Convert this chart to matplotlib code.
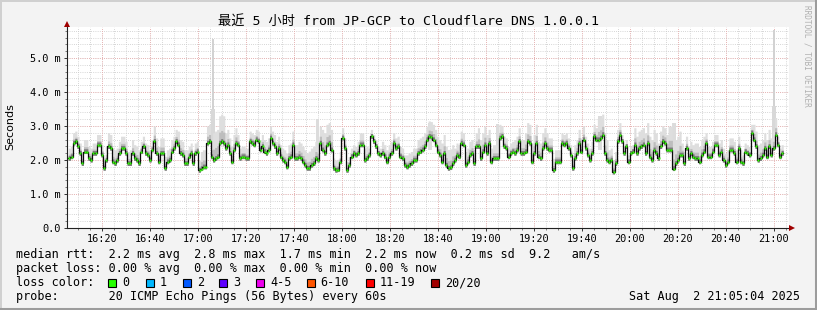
import numpy as np
import matplotlib
matplotlib.use('Agg')
import matplotlib.pyplot as plt
from matplotlib.patches import Rectangle, Polygon
from matplotlib.lines import Line2D

W, H = 817, 310
MONO = ['DejaVu Sans Mono', 'Noto Sans CJK SC']


def hm(s):
    h, m = s.split(':')
    return int(h) * 60 + float(m)


# median rtt (ms), read per segment of the time axis
seg_edges = ['16:06', '16:56', '17:46', '18:36', '19:26', '20:16', '21:04']
seg1 = [2.05, 2.1, 2.5, 2.55, 2.4, 2.2, 1.9, 2.25, 2.25, 2.05, 2.0, 2.2, 2.2, 2.45,
        2.45, 2.15, 1.76, 2.0, 2.4, 2.35, 1.95, 1.9, 2.0, 2.2, 2.35, 2.35, 2.2, 1.9,
        1.9, 2.2, 2.05, 2.0, 1.9, 2.25, 2.4, 2.2, 2.15, 2.0, 2.3, 2.55, 2.2, 1.95,
        2.2, 2.2, 1.76, 1.95, 2.0, 2.25, 2.35, 2.55, 2.45, 2.2, 2.15, 1.9, 1.9]
seg2 = [2.1, 2.2, 1.9, 2.2, 2.25, 1.7, 1.75, 1.8, 1.8, 2.5, 2.55, 2.1, 2.0, 2.05,
        2.1, 2.5, 2.55, 2.5, 2.35, 2.45, 2.2, 1.95, 2.3, 2.5, 2.45, 2.05, 2.1, 2.1,
        2.05, 2.05, 2.55, 2.5, 2.45, 2.6, 2.55, 2.3, 2.4, 2.25, 2.2, 2.3, 2.65, 2.5,
        2.4, 2.2, 2.35, 2.1, 2.0, 1.95, 1.8, 2.05, 2.1, 2.45, 2.05, 2.05, 2.1, 2.05,
        1.95, 1.85, 1.76]
seg3 = [1.76, 1.85, 1.9, 2.05, 2.0, 2.5, 2.3, 2.2, 2.45, 2.5, 2.3, 1.76, 1.7, 1.72,
        1.95, 2.65, 2.35, 1.7, 1.85, 2.1, 2.2, 2.15, 2.2, 2.45, 2.45, 2.0, 2.05, 2.15,
        2.7, 2.55, 2.4, 2.2, 2.15, 2.2, 2.1, 1.95, 2.1, 2.2, 2.5, 2.35, 2.4, 2.1, 2.05,
        1.85, 1.8, 1.85, 1.9, 2.0, 2.0, 2.2, 2.25, 2.3, 2.4, 2.6]
seg4 = [2.7, 2.68, 2.6, 2.45, 2.25, 2.15, 1.95, 2.2, 1.85, 1.76, 1.78, 1.9, 2.0, 2.15,
        2.1, 2.5, 2.45, 1.85, 1.95, 2.15, 2.2, 1.9, 2.4, 2.4, 2.05, 2.25, 2.45, 2.2,
        2.5, 1.95, 2.05, 2.05, 2.05, 2.65, 2.7, 2.4, 2.35, 2.1, 2.2, 2.25, 2.2, 2.3,
        2.55, 2.2, 2.2, 2.25, 2.55, 2.5, 1.95, 2.2, 2.5, 2.1, 2.05, 2.35, 2.5, 2.35]
seg5 = [2.3, 2.3, 1.7, 1.95, 1.95, 1.95, 2.5, 2.45, 2.5, 2.35, 2.15, 1.76, 2.05, 2.2,
        2.5, 2.25, 2.6, 2.35, 2.15, 2.0, 2.2, 2.7, 2.6, 2.6, 2.65, 2.75, 2.2, 2.0,
        1.95, 2.0, 1.65, 1.9, 2.55, 2.75, 2.55, 2.2, 2.4, 1.95, 2.2, 2.25, 2.45, 2.2,
        2.35, 2.4, 2.45, 2.2, 2.5, 2.1, 2.0, 2.3, 2.2, 2.05, 2.4, 2.55, 2.5, 2.3]
seg6 = [2.3, 2.3, 1.75, 1.9, 2.0, 2.15, 2.15, 1.9, 2.35, 2.05, 2.2, 2.1, 2.05, 2.05,
        1.95, 2.15, 2.25, 2.5, 2.1, 2.1, 2.25, 2.45, 2.45, 2.15, 2.25, 2.0, 1.85, 1.95,
        2.3, 2.3, 2.2, 1.95, 2.35, 1.95, 1.9, 2.25, 2.2, 2.15, 2.8, 2.6, 2.4, 2.0, 2.05,
        2.15, 2.35, 2.1, 2.4, 2.15, 2.35, 2.75, 2.45, 2.1, 2.2]
segments = [seg1, seg2, seg3, seg4, seg5, seg6]

# smoke: spread of the slowest pings above the median (ms), per 5 minute block
spread_start = '16:06'
spread = [0.3, 0.35, 0.3, 0.4, 0.35, 0.4, 0.3, 0.45, 0.35, 0.4,
          0.3, 0.5, 0.8, 0.45, 0.3, 0.3, 0.35, 0.35, 0.4, 0.45,
          0.5, 0.6, 0.3, 0.25, 0.35, 0.2, 0.35, 0.3, 0.35, 0.4,
          0.45, 0.55, 0.35, 0.4, 0.55, 0.4, 0.3, 0.4, 0.55, 0.45,
          0.35, 0.3, 0.4, 0.35, 0.6, 0.35, 0.2, 0.5, 0.6, 0.45,
          0.7, 0.35, 0.45, 0.3, 0.35, 0.35, 0.25, 0.45, 0.5, 0.25]
spike_t = ['17:06.5', '21:00.3']
spike_top = [5.56, 5.82]
spike_mid = [3.5, 3.6]
bump_t = ['17:50', '18:36.8', '19:05', '19:47.6', '20:18.5']
bump_top = [3.2, 3.1, 3.05, 3.3, 3.1]

xticks = ['16:20', '16:40', '17:00', '17:20', '17:40', '18:00', '18:20', '18:40',
          '19:00', '19:20', '19:40', '20:00', '20:20', '20:40', '21:00']
yticks = [0, 1, 2, 3, 4, 5]
ylabels = ['0.0', '1.0 m', '2.0 m', '3.0 m', '4.0 m', '5.0 m']

loss_labels = ['0', '1', '2', '3', '4-5', '6-10', '11-19', '20/20']
loss_colors = ['#26ff00', '#00b8ff', '#0059ff', '#5e00ff', '#ee00ee',
               '#ff5500', '#ff0000', '#a10000']

# build time axis
t_parts = []
for k, vals in enumerate(segments):
    t_parts.append(np.linspace(hm(seg_edges[k]), hm(seg_edges[k + 1]), len(vals), endpoint=False))
t = np.concatenate(t_parts)
med = np.concatenate([np.array(s, float) for s in segments])
t_end = hm(seg_edges[-1])

blk = np.clip(((t - hm(spread_start)) // 5).astype(int), 0, len(spread) - 1)
sp = np.array(spread)[blk]

fig = plt.figure(figsize=(W / 100, H / 100), dpi=100)
fig.patch.set_facecolor('#f3f3f3')


def f(x, y):
    return (x / W, 1 - y / H)


L, R, TOP, BOT = 67, 789, 27, 228
ax = fig.add_axes([L / W, 1 - BOT / H, (R - L) / W, (BOT - TOP) / H])
ax.set_facecolor('white')
xl, xr = hm('16:05.5'), hm('21:06.4')
ax.set_xlim(xl, xr)
ax.set_ylim(0, (BOT - TOP) / 34.0)

# grid
dots = (0, (0.72, 1.44))
minor_x = np.arange(hm('16:10'), xr, 5)
for x in minor_x:
    ax.axvline(x, color='#cacaca', lw=0.72, ls=dots, zorder=0)
for y in np.arange(0.2, 5.91, 0.2):
    ax.axhline(y, color='#cacaca', lw=0.72, ls=dots, zorder=0)
for s in xticks:
    ax.axvline(hm(s), color='#eeaaaa', lw=0.72, ls=dots, zorder=0.5)
for y in yticks[1:]:
    ax.axhline(y, color='#eeaaaa', lw=0.72, ls=dots, zorder=0.5)

# smoke
te = np.append(t, t_end)
def band(lo, hi, color, z):
    ax.fill_between(te, np.append(lo, lo[-1]), np.append(hi, hi[-1]), step='post',
                    color=color, lw=0, zorder=z)

band(med - 0.04, med + sp, '#dedede', 1)
band(med - 0.06, med + sp * 0.4, '#bdbdbd', 1.1)
band(med - 0.06, med + 0.08, '#7a7a7a', 1.2)

for s, top, mid in zip(spike_t, spike_top, spike_mid):
    x0 = hm(s)
    ax.add_patch(Rectangle((x0 - 0.4, 2.3), 0.8, top - 2.3, color='#d2d2d2', lw=0, zorder=0.9))
    ax.add_patch(Rectangle((x0 - 0.8, 2.3), 1.6, mid - 2.3, color='#d8d8d8', lw=0, zorder=0.9))
for s, top in zip(bump_t, bump_top):
    x0 = hm(s)
    ax.add_patch(Rectangle((x0 - 0.7, 2.3), 1.4, top - 2.3, color='#dcdcdc', lw=0, zorder=0.9))

# median
ax.plot(te, np.append(med, med[-1]), drawstyle='steps-post', color='#0a0a0a', lw=0.9, zorder=3)
ax.plot(t + 0.5, med, ls='none', marker='s', ms=1.5, mec='none', mfc='#2cff00', zorder=4)

# axes
for side in ['top', 'right']:
    ax.spines[side].set_visible(False)
for side in ['left', 'bottom']:
    ax.spines[side].set_color('#222222')
    ax.spines[side].set_linewidth(0.8)
    ax.spines[side].set_zorder(5)
ax.set_xticks([hm(s) for s in xticks])
ax.set_xticklabels(xticks)
ax.set_xticks(minor_x, minor=True)
ax.set_yticks(yticks)
ax.set_yticklabels(ylabels)
ax.set_yticks(np.arange(0.2, 5.91, 0.2), minor=True)
ax.tick_params(which='major', length=2.5, width=0.7, color='#333333', direction='out',
               labelsize=7.4, pad=1.8)
ax.tick_params(which='minor', length=1.2, width=0.6, color='#666666', direction='out')
for lab in ax.get_xticklabels() + ax.get_yticklabels():
    lab.set_family(MONO)
    lab.set_color('#000000')

# arrows
fig.add_artist(Polygon([f(L - 3, TOP), f(L + 3, TOP), f(L, TOP - 6)], closed=True,
                       transform=fig.transFigure, color='#a00000', lw=0))
fig.add_artist(Polygon([f(R, BOT - 3), f(R, BOT + 3), f(R + 6, BOT)], closed=True,
                       transform=fig.transFigure, color='#a00000', lw=0))

# titles / labels
fig.text(*f(408, 21), '最近 5 小时 from JP-GCP to Cloudflare DNS 1.0.0.1', ha='center', va='center',
         fontsize=9.5, family=MONO, color='#000000')
fig.text(*f(10, 127), 'Seconds', rotation=90, ha='center', va='center', fontsize=8,
         family='DejaVu Sans', color='#000000')
fig.text(*f(807, 5), 'RRDTOOL / TOBI OETIKER', rotation=270, ha='center', va='top',
         fontsize=5.6, family='DejaVu Sans Mono', color='#b0b0b0')

fs = 8.5
fig.text(*f(16, 254.5), 'median rtt:  2.2 ms avg  2.8 ms max  1.7 ms min  2.2 ms now  0.2 ms sd  9.2   am/s',
         ha='left', va='center', fontsize=fs, family=MONO)
fig.text(*f(16, 268.5), 'packet loss: 0.00 % avg  0.00 % max  0.00 % min  0.00 % now',
         ha='left', va='center', fontsize=fs, family=MONO)
fig.text(*f(16, 282.5), 'loss color:', ha='left', va='center', fontsize=fs, family=MONO)
box_x = [108.3, 145.7, 182.7, 219.3, 256, 306.7, 366, 430.7]
for bx, lab, col in zip(box_x, loss_labels, loss_colors):
    x0, y0 = f(bx, 286.5)
    fig.add_artist(Rectangle((x0, y0), 8 / W, 8 / H, transform=fig.transFigure,
                             facecolor=col, edgecolor='#000000', lw=0.8))
    fig.text(*f(bx + 14, 282.5), lab, ha='left', va='center', fontsize=fs, family=MONO)
fig.text(*f(16, 296.5), 'probe:       20 ICMP Echo Pings (56 Bytes) every 60s',
         ha='left', va='center', fontsize=fs, family=MONO)
fig.text(*f(800, 296.5), 'Sat Aug  2 21:05:04 2025', ha='right', va='center', fontsize=fs, family=MONO)

# 3d frame
fig.add_artist(Line2D([0, 1], [1 - 1 / H, 1 - 1 / H], transform=fig.transFigure, color='#d0d0d0', lw=1.4))
fig.add_artist(Line2D([1 / W, 1 / W], [0, 1], transform=fig.transFigure, color='#d0d0d0', lw=1.4))
fig.add_artist(Line2D([0, 1], [1.5 / H, 1.5 / H], transform=fig.transFigure, color='#9c9c9c', lw=2.2))
fig.add_artist(Line2D([1 - 1.5 / W, 1 - 1.5 / W], [0, 1], transform=fig.transFigure, color='#9c9c9c', lw=2.2))

fig.savefig('out.png', dpi=100, facecolor=fig.get_facecolor())
